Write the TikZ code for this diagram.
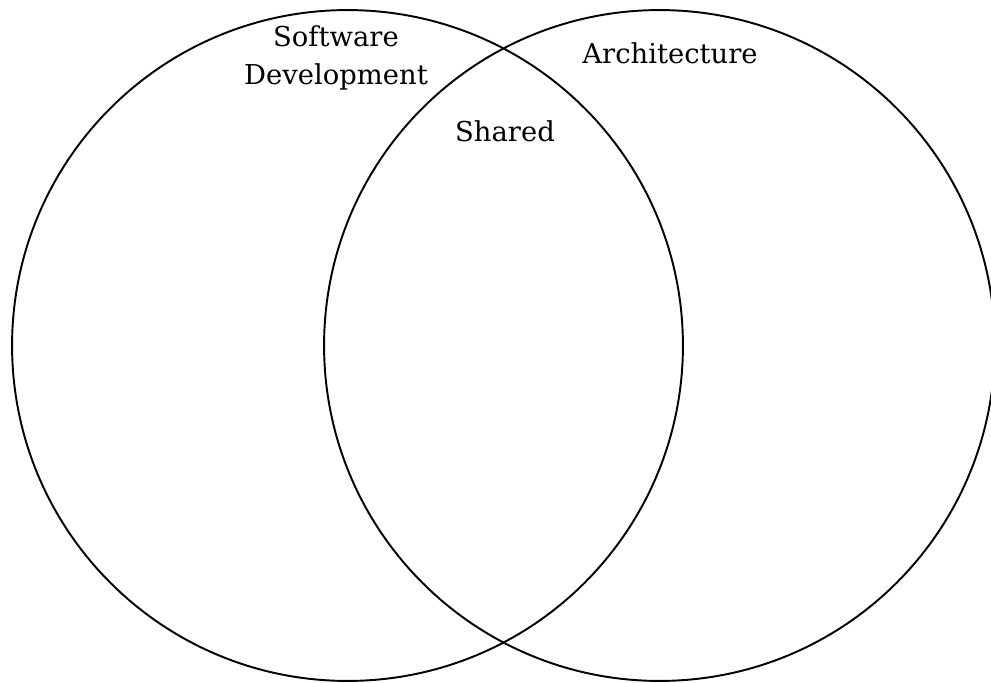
\documentclass[tikz,border=0pt]{standalone}
\usepackage{fontspec}
\setmainfont{DejaVu Serif}
\usetikzlibrary{positioning}

\begin{document}
\begin{tikzpicture}[x=0.02cm, y=-0.02cm, font=\fontsize{15.6}{18.7}\selectfont,
 set/.style={draw, circle, line width=1.1pt, inner sep=0pt, minimum size=13.42cm},
 lbl/.style={align=center, inner sep=0pt}]
\useasboundingbox (0,0) rectangle (991,683);
\clip (0,0) rectangle (991,683);
% the two sets
\node[set] (dev) at (347.5,345.5) {};
\node[set] (arch) at (659.5,345.5) {};
% labels
\node[lbl] (devlbl) at (336,58) {Software\\[3pt]Development};
\node[lbl] (archlbl) at (670,53) {Architecture};
\node[lbl] (shared) at (505,131) {Shared};
\end{tikzpicture}
\end{document}
